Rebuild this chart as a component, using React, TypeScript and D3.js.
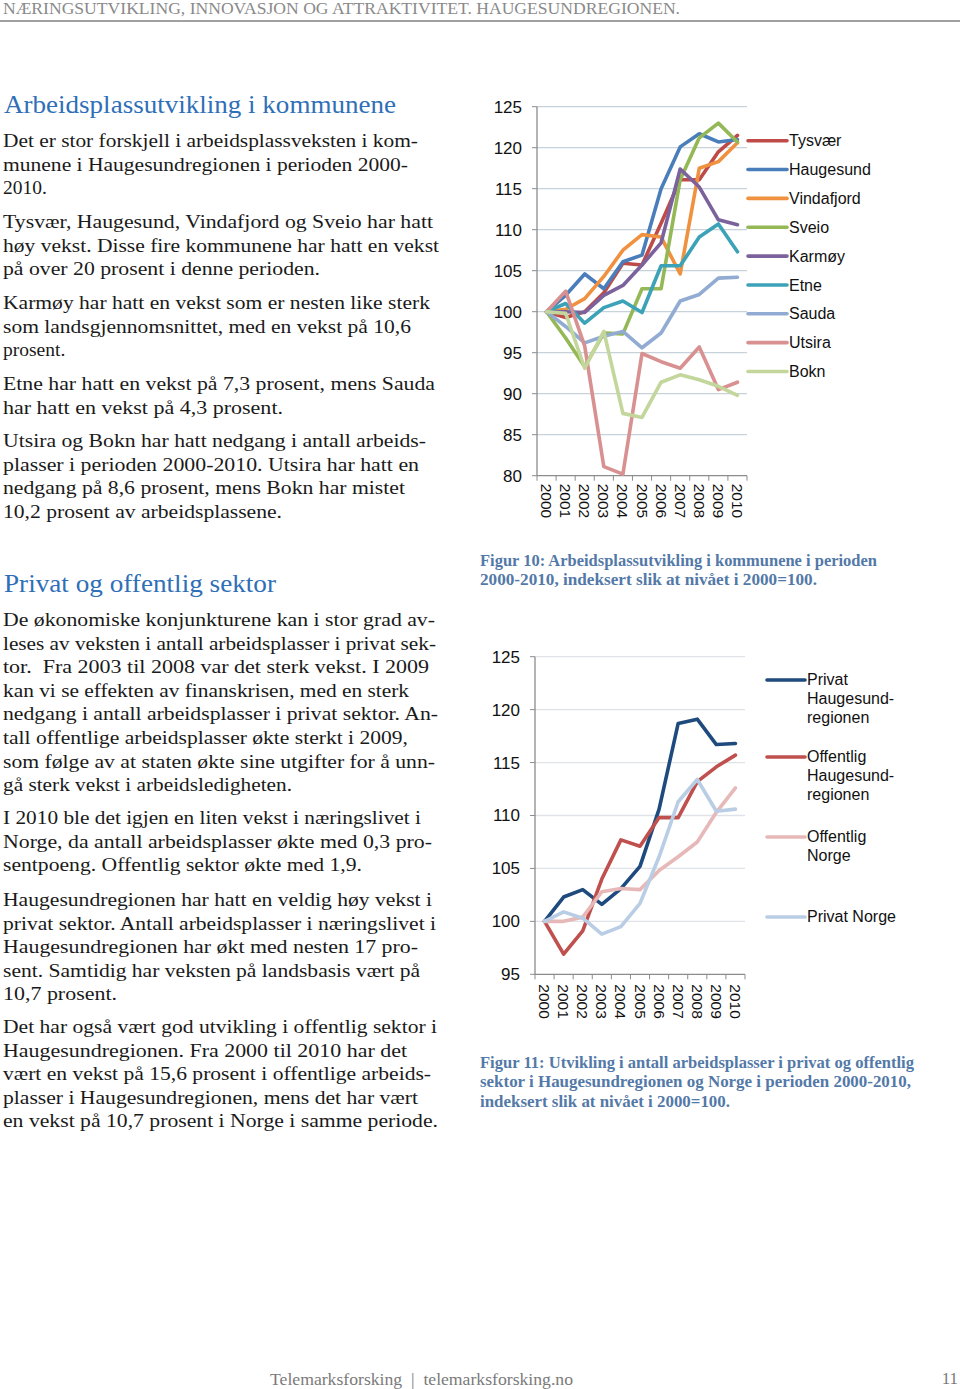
import React from "react";
import * as d3 from "d3";

// ---------- DATA ----------
const years = ["2000", "2001", "2002", "2003", "2004", "2005", "2006", "2007", "2008", "2009", "2010"];

const tysvaer = [100, 99.3, 100.0, 102.3, 105.9, 105.7, 110.8, 116.1, 116.1, 119.5, 121.5];
const haugesund = [100, 102.0, 104.6, 102.8, 106.1, 106.9, 115.0, 120.1, 121.7, 120.7, 121.0];
const vindafjord = [100, 100.3, 101.6, 104.3, 107.5, 109.4, 109.1, 104.6, 117.5, 118.3, 120.6];
const sveio = [100, 96.8, 93.3, 97.4, 97.3, 102.8, 102.8, 116.1, 121.2, 123.0, 120.7];
const karmoy = [100, 100.0, 99.9, 102.0, 103.2, 105.7, 108.4, 117.4, 115.2, 111.2, 110.6];
const etne = [100, 101.0, 98.6, 100.5, 101.3, 99.9, 105.6, 105.6, 109.1, 110.7, 107.3];
const sauda = [100, 98.2, 96.2, 97.0, 97.6, 95.6, 97.4, 101.3, 102.1, 104.1, 104.2];
const utsira = [100, 102.5, 95.8, 81.1, 80.2, 94.9, 93.9, 93.1, 95.7, 90.5, 91.4];
const bokn = [100, 99.8, 93.1, 97.6, 87.6, 87.1, 91.4, 92.3, 91.7, 90.9, 89.8];

const kommuneNames = ["Tysvær", "Haugesund", "Vindafjord", "Sveio", "Karmøy", "Etne", "Sauda", "Utsira", "Bokn"];
const kommuneColors = ["#be4b48", "#4a7ebb", "#f0913f", "#93b855", "#7b629c", "#3ba2b8", "#91abd2", "#d99090", "#c3d69b"];
const kommuneTicks = [80, 85, 90, 95, 100, 105, 110, 115, 120, 125];

const privatHaug = [100, 102.3, 103.0, 101.6, 103.1, 105.2, 110.6, 118.7, 119.1, 116.7, 116.8];
const offentligHaug = [100, 96.9, 99.1, 104.0, 107.7, 107.1, 109.8, 109.8, 113.2, 114.6, 115.7];
const offentligNorge = [100, 100.0, 100.4, 102.8, 103.1, 103.0, 104.8, 106.1, 107.5, 110.3, 112.6];
const privatNorge = [100, 100.9, 100.3, 98.8, 99.5, 101.7, 106.1, 111.3, 113.4, 110.4, 110.6];

const sektorNames = [["Privat", "Haugesund-", "regionen"], ["Offentlig", "Haugesund-", "regionen"], ["Offentlig", "Norge"], ["Privat Norge"]];
const sektorColors = ["#1f4a7e", "#c0504d", "#e6b9b8", "#b9cde5"];
const sektorTicks = [95, 100, 105, 110, 115, 120, 125];

// ---------- TEXT ----------
type Line = [string, number | null];
const para1: Line[] = [
  ["Det er stor forskjell i arbeidsplassveksten i kom-", 415],
  ["munene i Haugesundregionen i perioden 2000-", 405],
  ["2010.", null],
];
const para2: Line[] = [
  ["Tysvær, Haugesund, Vindafjord og Sveio har hatt", 430],
  ["høy vekst. Disse fire kommunene har hatt en vekst", 436],
  ["på over 20 prosent i denne perioden.", 317],
];
const para3: Line[] = [
  ["Karmøy har hatt en vekst som er nesten like sterk", 427],
  ["som landsgjennomsnittet, med en vekst på 10,6", 408],
  ["prosent.", null],
];
const para4: Line[] = [
  ["Etne har hatt en vekst på 7,3 prosent, mens Sauda", 432],
  ["har hatt en vekst på 4,3 prosent.", 280],
];
const para5: Line[] = [
  ["Utsira og Bokn har hatt nedgang i antall arbeids-", 423],
  ["plasser i perioden 2000-2010. Utsira har hatt en", 416],
  ["nedgang på 8,6 prosent, mens Bokn har mistet", 402],
  ["10,2 prosent av arbeidsplassene.", 279],
];
const para6: Line[] = [
  ["De økonomiske konjunkturene kan i stor grad av-", 432],
  ["leses av veksten i antall arbeidsplasser i privat sek-", 433],
  ["tor.  Fra 2003 til 2008 var det sterk vekst. I 2009", 426],
  ["kan vi se effekten av finanskrisen, med en sterk", 406],
  ["nedgang i antall arbeidsplasser i privat sektor. An-", 435],
  ["tall offentlige arbeidsplasser økte sterkt i 2009,", 405],
  ["som følge av at staten økte sine utgifter for å unn-", 432],
  ["gå sterk vekst i arbeidsledigheten.", 289],
];
const para7: Line[] = [
  ["I 2010 ble det igjen en liten vekst i næringslivet i", 418],
  ["Norge, da antall arbeidsplasser økte med 0,3 pro-", 429],
  ["sentpoeng. Offentlig sektor økte med 1,9.", 359],
];
const para8: Line[] = [
  ["Haugesundregionen har hatt en veldig høy vekst i", 429],
  ["privat sektor. Antall arbeidsplasser i næringslivet i", 433],
  ["Haugesundregionen har økt med nesten 17 pro-", 415],
  ["sent. Samtidig har veksten på landsbasis vært på", 417],
  ["10,7 prosent.", 114],
];
const para9: Line[] = [
  ["Det har også vært god utvikling i offentlig sektor i", 434],
  ["Haugesundregionen. Fra 2000 til 2010 har det", 404],
  ["vært en vekst på 15,6 prosent i offentlige arbeids-", 428],
  ["plasser i Haugesundregionen, mens det har vært", 415],
  ["en vekst på 10,7 prosent i Norge i samme periode.", 435],
];

const paragraphs: [Line[], number][] = [
  [para1, 147], [para2, 228], [para3, 309], [para4, 390], [para5, 447],
  [para6, 626], [para7, 824], [para8, 906], [para9, 1033],
];

const SERIF = "'Liberation Serif', 'DejaVu Serif', serif";
const SANS = "'Liberation Sans', Arial, sans-serif";

function Body() {
  const lh = 23.6;
  return (
    <g fontFamily={SERIF} fontSize={19.5} fill="#1a1a1a">
      {paragraphs.map(([lines, y0], pi) =>
        lines.map(([t, w], li) => (
          <text
            key={pi + "-" + li}
            x={3}
            y={y0 + li * lh}
            textLength={w ?? undefined}
            lengthAdjust={w ? "spacingAndGlyphs" : undefined}
            style={{ whiteSpace: "pre" }}
          >
            {t}
          </text>
        ))
      )}
    </g>
  );
}

type ChartProps = {
  series: number[][];
  colors: string[];
  ticks: number[];
  x0: number; x1: number; yTop: number; yBot: number;
  labelRight: number; xLabelGap: number; grid: string;
};

function LineChart({ series, colors, ticks, x0, x1, yTop, yBot, labelRight, xLabelGap, grid }: ChartProps) {
  const x = d3.scaleBand<string>().domain(years).range([x0, x1]);
  const y = d3.scaleLinear().domain([ticks[0], ticks[ticks.length - 1]]).range([yBot, yTop]);
  const line = d3.line<number>()
    .x((_, i) => (x(years[i]) as number) + x.bandwidth() / 2)
    .y((d) => y(d));
  const bounds = years.map((yr) => x(yr) as number).concat([x1]);
  return (
    <g>
      {ticks.map((t) => (
        <g key={t}>
          {t !== ticks[0] && <line x1={x0} x2={x1} y1={y(t)} y2={y(t)} stroke={grid} strokeWidth={1.3} />}
          <line x1={x0 - 5} x2={x0} y1={y(t)} y2={y(t)} stroke="#8c8c8c" strokeWidth={1} />
          <text x={labelRight} y={y(t)} dy="0.35em" textAnchor="end" fontFamily={SANS} fontSize={17} fill="#111">{t}</text>
        </g>
      ))}
      <line x1={x0} x2={x0} y1={yTop} y2={yBot} stroke="#8c8c8c" strokeWidth={1.3} />
      <line x1={x0} x2={x1} y1={yBot} y2={yBot} stroke="#8c8c8c" strokeWidth={1.3} />
      {bounds.map((b, i) => (
        <line key={i} x1={b} x2={b} y1={yBot} y2={yBot + 5} stroke="#8c8c8c" strokeWidth={1} />
      ))}
      {years.map((yr) => {
        const cx = (x(yr) as number) + x.bandwidth() / 2;
        const ty = yBot + xLabelGap;
        return (
          <text key={yr} x={cx} y={ty} transform={`rotate(90 ${cx} ${ty})`} dy="0.35em"
            fontFamily={SANS} fontSize={15.5} fill="#111">{yr}</text>
        );
      })}
      {series.map((s, i) => (
        <path key={i} d={line(s) as string} fill="none" stroke={colors[i]} strokeWidth={3.6}
          strokeLinejoin="round" strokeLinecap="round" />
      ))}
    </g>
  );
}

export default function App() {
  const kommuner = [tysvaer, haugesund, vindafjord, sveio, karmoy, etne, sauda, utsira, bokn];
  const sektor = [privatHaug, offentligHaug, offentligNorge, privatNorge];
  const sektorLegendY = [680, 757, 837, 917];
  return (
    <svg width={960} height={1389} style={{ position: "absolute", left: 0, top: 0, background: "#fff" }}>
      <rect width={960} height={1389} fill="#fff" />
      {/* header */}
      <text x={3} y={14} fontFamily={SERIF} fontSize={17} fill="#8a8a8a" textLength={677} lengthAdjust="spacingAndGlyphs">
        NÆRINGSUTVIKLING, INNOVASJON OG ATTRAKTIVITET. HAUGESUNDREGIONEN.
      </text>
      <line x1={0} x2={960} y1={21} y2={21} stroke="#a0a0a0" strokeWidth={2} />

      {/* titles */}
      <text x={4} y={113} fontFamily={SERIF} fontSize={26} fill="#2f6fb7" textLength={392} lengthAdjust="spacingAndGlyphs">
        Arbeidsplassutvikling i kommunene
      </text>
      <text x={4} y={592} fontFamily={SERIF} fontSize={26} fill="#2f6fb7" textLength={272} lengthAdjust="spacingAndGlyphs">
        Privat og offentlig sektor
      </text>

      <Body />

      {/* chart 1 */}
      <LineChart series={kommuner} colors={kommuneColors} ticks={kommuneTicks}
        x0={537} x1={747} yTop={106.7} yBot={475.7} labelRight={522} xLabelGap={8} grid="#c8d2db" />
      {kommuneNames.map((n, i) => {
        const ly = 140.7 + i * 28.85;
        return (
          <g key={n}>
            <line x1={748} x2={787} y1={ly} y2={ly} stroke={kommuneColors[i]} strokeWidth={3.6} strokeLinecap="round" />
            <text x={789} y={ly} dy="0.35em" fontFamily={SANS} fontSize={16} fill="#111">{n}</text>
          </g>
        );
      })}
      <g fontFamily={SERIF} fontSize={16.5} fontWeight="bold" fill="#5379a8">
        <text x={480} y={566} textLength={397} lengthAdjust="spacingAndGlyphs">Figur 10: Arbeidsplassutvikling i kommunene i perioden</text>
        <text x={480} y={585} textLength={337} lengthAdjust="spacingAndGlyphs">2000-2010, indeksert slik at nivået i 2000=100.</text>
      </g>

      {/* chart 2 */}
      <LineChart series={sektor} colors={sektorColors} ticks={sektorTicks}
        x0={535} x1={745} yTop={656.7} yBot={974.3} labelRight={520} xLabelGap={10} grid="#dfe3e7" />
      {sektorNames.map((lines, i) => {
        const ly = sektorLegendY[i];
        return (
          <g key={i}>
            <line x1={767} x2={805} y1={ly} y2={ly} stroke={sektorColors[i]} strokeWidth={3.6} strokeLinecap="round" />
            {lines.map((t, j) => (
              <text key={j} x={807} y={ly - 1 + j * 19.3} dy="0.35em" fontFamily={SANS} fontSize={16} fill="#111">{t}</text>
            ))}
          </g>
        );
      })}
      <g fontFamily={SERIF} fontSize={16.5} fontWeight="bold" fill="#5379a8">
        <text x={480} y={1068} textLength={434} lengthAdjust="spacingAndGlyphs">Figur 11: Utvikling i antall arbeidsplasser i privat og offentlig</text>
        <text x={480} y={1087} textLength={431} lengthAdjust="spacingAndGlyphs">sektor i Haugesundregionen og Norge i perioden 2000-2010,</text>
        <text x={480} y={1107} textLength={250} lengthAdjust="spacingAndGlyphs">indeksert slik at nivået i 2000=100.</text>
      </g>

      {/* footer */}
      <text x={270} y={1385} fontFamily={SERIF} fontSize={17} fill="#7a7a7a" textLength={303} lengthAdjust="spacingAndGlyphs" style={{ whiteSpace: "pre" }}>
        Telemarksforsking  |  telemarksforsking.no
      </text>
      <text x={958} y={1384} textAnchor="end" fontFamily={SERIF} fontSize={17} fill="#7a7a7a">11</text>
    </svg>
  );
}
